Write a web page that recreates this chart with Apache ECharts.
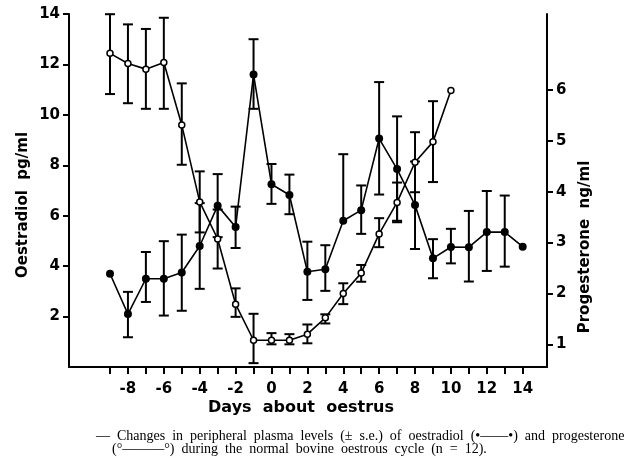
<!DOCTYPE html>
<html>
<head>
<meta charset="utf-8">
<script src="https://cdn.jsdelivr.net/npm/echarts@6/dist/echarts.min.js"></script>
<style>html,body{margin:0;padding:0;background:#fff}#c{width:626px;height:458px}</style>
</head>
<body>
<div id="c"></div>
<script>
// Days about oestrus
const oeDays = [-9,-8,-7,-6,-5,-4,-3,-2,-1,0,1,2,3,4,5,6,7,8,9,10,11,12,13,14];
// Oestradiol pg/ml (filled circles, left axis)
const oeMean = [3.7,2.1,3.5,3.5,3.75,4.8,6.4,5.55,11.6,7.25,6.82,3.78,3.88,5.8,6.22,9.06,7.85,6.42,4.31,4.76,4.75,5.35,5.35,4.77];
const oeLow  = [null,1.18,2.58,2.04,2.23,3.1,5.15,4.72,10.24,6.47,6.06,2.66,3.02,null,5.28,6.84,5.8,4.68,3.52,4.11,3.39,3.81,3.98,null];
const oeHigh = [null,2.98,4.56,4.99,5.25,6.5,7.65,6.36,13.0,8.05,7.63,4.97,4.83,8.44,7.2,11.3,9.94,8.15,5.07,5.48,6.19,6.98,6.8,null];
// Progesterone ng/ml (open circles, right axis)
const prDays = [-9,-8,-7,-6,-5,-4,-3,-2,-1,0,1,2,3,4,5,6,7,8,9,10];
const prMean = [6.72,6.52,6.41,6.54,5.31,3.80,3.07,1.79,1.08,1.08,1.08,1.2,1.52,2.0,2.40,3.17,3.79,4.58,4.98,5.99];
const prLow  = [5.92,5.74,5.63,5.63,4.53,3.2,2.49,1.54,0.63,1.0,1.0,1.02,1.41,1.79,2.23,2.91,3.40,3.99,4.19,null];
const prHigh = [7.49,7.29,7.2,7.42,6.13,4.40,3.65,2.1,1.6,1.22,1.2,1.39,1.59,2.2,2.56,3.48,4.18,5.17,5.78,null];
// Tick labels
const xTicks = [-9,-8,-7,-6,-5,-4,-3,-2,-1,0,1,2,3,4,5,6,7,8,9,10,11,12,13,14];
const xLabels = [-8,-6,-4,-2,0,2,4,6,8,10,12,14];
const leftLabels = [2,4,6,8,10,12,14];
const rightLabels = [1,2,3,4,5,6];

const BOLD = 'DejaVu Sans';
const chart = echarts.init(document.getElementById('c'), null, {renderer:'canvas'});

function errItems(days, mean, lo, hi){
  return days.map((d,i)=>[d, mean[i], lo[i]==null?NaN:lo[i], hi[i]==null?NaN:hi[i]]);
}
function errRender(params, api){
  const x = api.value(0), v = api.value(1), lo = api.value(2), hi = api.value(3);
  const c = [];
  const cap = 5;
  const st = {stroke:'#000', lineWidth:2};
  const pv = api.coord([x, v]);
  [lo, hi].forEach(e=>{
    if (e == null || isNaN(e)) return;
    const pe = api.coord([x, e]);
    c.push({type:'line', shape:{x1:pv[0], y1:pv[1], x2:pe[0], y2:pe[1]}, style:st});
    c.push({type:'line', shape:{x1:pe[0]-cap, y1:pe[1], x2:pe[0]+cap, y2:pe[1]}, style:st});
  });
  return {type:'group', children:c};
}

const axisLineStyle = {color:'#000', width:2};
chart.setOption({
  animation:false,
  backgroundColor:'#fff',
  grid:{left:69, right:79, top:14, bottom:91, containLabel:false},
  xAxis:{
    type:'value', min:-11.285, max:15.355,
    axisLine:{show:true, onZero:false, lineStyle:axisLineStyle},
    axisTick:{show:true, customValues:xTicks, length:7, lineStyle:{color:'#000', width:2}},
    axisLabel:{customValues:xLabels, margin:15, color:'#000', fontFamily:BOLD, fontWeight:'bold', fontSize:15},
    splitLine:{show:false}
  },
  yAxis:[{
    type:'value', min:0, max:14, position:'left',
    axisLine:{show:true, onZero:false, lineStyle:axisLineStyle},
    axisTick:{show:true, customValues:leftLabels, length:6, lineStyle:{color:'#000', width:2}},
    axisLabel:{customValues:leftLabels, margin:9, color:'#000', fontFamily:BOLD, fontWeight:'bold', fontSize:15},
    splitLine:{show:false}
  },{
    type:'value', min:0.554, max:7.494, position:'right',
    axisLine:{show:true, onZero:false, lineStyle:axisLineStyle},
    axisTick:{show:true, customValues:rightLabels, length:6, lineStyle:{color:'#000', width:2}},
    axisLabel:{customValues:rightLabels, margin:9, color:'#000', fontFamily:BOLD, fontWeight:'bold', fontSize:15},
    splitLine:{show:false}
  }],
  series:[
    {type:'custom', name:'oeErr', xAxisIndex:0, yAxisIndex:0, renderItem:errRender,
     data:errItems(oeDays, oeMean, oeLow, oeHigh), z:2, silent:true},
    {type:'custom', name:'prErr', xAxisIndex:0, yAxisIndex:1, renderItem:errRender,
     data:errItems(prDays, prMean, prLow, prHigh), z:2, silent:true},
    {type:'line', name:'Oestradiol', yAxisIndex:0, data:oeDays.map((d,i)=>[d,oeMean[i]]),
     symbol:'circle', symbolSize:8, lineStyle:{color:'#000', width:1.6},
     itemStyle:{color:'#000'}, z:3},
    {type:'line', name:'Progesterone', yAxisIndex:1, data:prDays.map((d,i)=>[d,prMean[i]]),
     symbol:'circle', symbolSize:6, lineStyle:{color:'#000', width:1.6},
     itemStyle:{color:'#fff', borderColor:'#000', borderWidth:1.5}, z:4}
  ],
  graphic:[
    {type:'text', x:23.5, y:205, rotation:Math.PI/2,
     style:{text:'Oestradiol  pg/ml', font:'bold 15px "DejaVu Sans"', fill:'#000', align:'center', verticalAlign:'middle'}},
    {type:'text', x:585, y:247, rotation:Math.PI/2,
     style:{text:'Progesterone  ng/ml', font:'bold 15px "DejaVu Sans"', fill:'#000', align:'center', verticalAlign:'middle'}},
    {type:'text', x:301, y:408,
     style:{text:'Days  about  oestrus', font:'bold 16px "DejaVu Sans"', fill:'#000', align:'center', verticalAlign:'middle'}},
    {type:'text', x:96, y:436,
     style:{text:'—  Changes  in  peripheral  plasma  levels  (±  s.e.)  of  oestradiol  (•——•)  and  progesterone', font:'14px "Liberation Serif"', fill:'#000', align:'left', verticalAlign:'middle'}},
    {type:'text', x:112, y:449,
     style:{text:'(°———°)  during  the  normal  bovine  oestrous  cycle  (n  =  12).', font:'14px "Liberation Serif"', fill:'#000', align:'left', verticalAlign:'middle'}}
  ]
});
</script>
</body>
</html>
